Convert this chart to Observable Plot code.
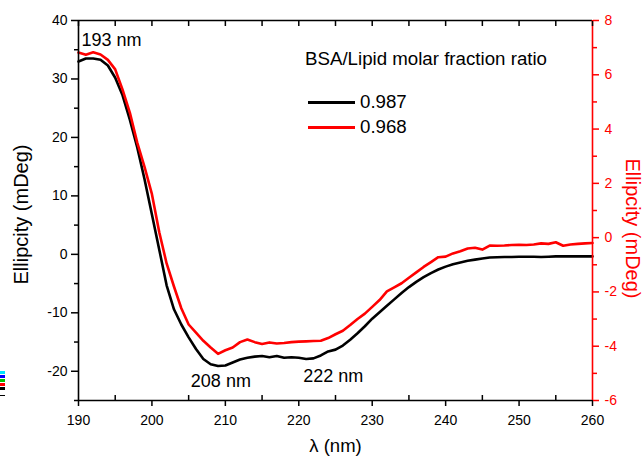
<!DOCTYPE html>
<html>
<head>
<meta charset="utf-8">
<script src="https://cdn.jsdelivr.net/npm/d3@7"></script>
<script src="https://cdn.jsdelivr.net/npm/@observablehq/plot@0.6"></script>
<style>
  body { margin: 0; background: #fff; font-family: "Liberation Sans", Arial, sans-serif; }
  #wrap { position: relative; width: 643px; height: 457px; overflow: hidden; }
  #legend { position: absolute; left: 305px; top: 47px; font-size: 18.7px; color: #000; }
  #legend .title { white-space: nowrap; line-height: 24px; }
  #legend .row { position: absolute; left: 3px; display: flex; align-items: center; white-space: nowrap; line-height: 22px; }
  #legend .sw { width: 47px; height: 3px; margin-right: 5px; }
  .frag { position: absolute; left: 0; width: 5px; height: 3px; }
</style>
</head>
<body>
<div id="wrap">
  <div id="chart"></div>
  <div id="legend"></div>
  <div class="frag" style="top:371px;background:#00e5ff"></div>
  <div class="frag" style="top:375px;background:#0000ff"></div>
  <div class="frag" style="top:379px;background:#00c000"></div>
  <div class="frag" style="top:383px;background:#ff0000"></div>
  <div class="frag" style="top:387px;background:#000"></div>
  <div class="frag" style="top:395px;height:1px;background:#000"></div>
</div>
<script>
// wavelength (nm)
const wavelength = [190,191,192,193,194,195,196,197,198,199,200,201,202,203,204,205,206,207,208,209,210,211,212,213,214,215,216,217,218,219,220,221,222,223,224,225,226,227,228,229,230,231,232,233,234,235,236,237,238,239,240,241,242,243,244,245,246,247,248,249,250,251,252,253,254,255,256,257,258,259,260];
// series 0.987 (left axis, mDeg)
const ellip0987 = [33.0,33.5,33.5,33.3,32.3,30.2,27.2,23.0,18.3,12.8,6.8,0.8,-5.3,-9.4,-12.0,-14.2,-16.2,-17.9,-18.8,-19.1,-19.0,-18.5,-18.0,-17.7,-17.5,-17.4,-17.6,-17.4,-17.7,-17.6,-17.7,-17.9,-17.8,-17.3,-16.6,-16.3,-15.6,-14.6,-13.5,-12.3,-11.0,-9.9,-8.8,-7.7,-6.6,-5.6,-4.7,-3.9,-3.2,-2.6,-2.1,-1.7,-1.4,-1.1,-0.9,-0.7,-0.55,-0.5,-0.45,-0.45,-0.4,-0.4,-0.4,-0.45,-0.4,-0.35,-0.35,-0.35,-0.35,-0.35,-0.35];
// series 0.968 (right axis, mDeg)
const ellip0968 = [6.82,6.74,6.83,6.75,6.55,6.2,5.45,4.6,3.5,2.6,1.6,0.2,-0.95,-1.8,-2.6,-3.2,-3.5,-3.8,-4.05,-4.28,-4.15,-4.05,-3.85,-3.75,-3.85,-3.92,-3.86,-3.9,-3.88,-3.85,-3.83,-3.82,-3.81,-3.8,-3.7,-3.56,-3.43,-3.22,-3.0,-2.8,-2.55,-2.3,-1.98,-1.83,-1.68,-1.48,-1.28,-1.08,-0.9,-0.72,-0.7,-0.58,-0.5,-0.4,-0.37,-0.44,-0.29,-0.3,-0.29,-0.27,-0.26,-0.27,-0.25,-0.21,-0.23,-0.17,-0.3,-0.25,-0.23,-0.21,-0.2];

const seriesNames = ["0.987", "0.968"];
const seriesColors = ["#000000", "#ff0000"];
const legendTitle = "BSA/Lipid molar fraction ratio";

const xTicksMajor = [190,200,210,220,230,240,250,260];
const xTicksMinor = [195,205,215,225,235,245,255];
const yLeftMajor = [-20,-10,0,10,20,30,40];
const yLeftMinor = [-25,-15,-5,5,15,25,35];
const yRightMajor = [-6,-4,-2,0,2,4,6,8];
const yRightMinor = [-5,-3,-1,1,3,5,7];

const leftDomain = [-25, 40];
const rightDomain = [-6, 8];

const annotations = [
  {label: "193 nm", x: 190.4, y: 36.6},
  {label: "208 nm", x: 205.3, y: -21.7},
  {label: "222 nm", x: 220.6, y: -20.9}
];

const xLabel = "λ (nm)";
const yLabel = "Ellipcity (mDeg)";

// map right-axis values onto the left-axis scale
const toLeft = v => leftDomain[0] + (v - rightDomain[0]) * (leftDomain[1] - leftDomain[0]) / (rightDomain[1] - rightDomain[0]);
const fromLeft = v => rightDomain[0] + (v - leftDomain[0]) * (rightDomain[1] - rightDomain[0]) / (leftDomain[1] - leftDomain[0]);

const rowsA = wavelength.map((w, i) => ({w, v: ellip0987[i]}));
const rowsB = wavelength.map((w, i) => ({w, v: toLeft(ellip0968[i])}));

const RED = seriesColors[1];
const fmt = d => String(d);

const chart = Plot.plot({
  width: 643,
  height: 457,
  marginLeft: 78,
  marginRight: 51,
  marginTop: 20,
  marginBottom: 57,
  style: {fontFamily: '"Liberation Sans", Arial, sans-serif', fontSize: "14px", background: "#fff", color: "#000", overflow: "visible"},
  x: {domain: [190, 260]},
  y: {domain: leftDomain},
  marks: [
    Plot.line(rowsA, {x: "w", y: "v", stroke: seriesColors[0], strokeWidth: 2.6}),
    Plot.line(rowsB, {x: "w", y: "v", stroke: seriesColors[1], strokeWidth: 2.6}),
    Plot.ruleY([leftDomain[0]], {stroke: "#000", strokeWidth: 1.6}),
    Plot.ruleY([leftDomain[1]], {stroke: "#000", strokeWidth: 1.6}),
    Plot.ruleX([190], {stroke: "#000", strokeWidth: 1.6}),
    Plot.ruleX([260], {stroke: RED, strokeWidth: 1.6}),
    Plot.axisX(xTicksMajor, {anchor: "bottom", tickSize: 6, tickPadding: 9, tickFormat: fmt, label: null, strokeWidth: 1.5}),
    Plot.axisX(xTicksMinor, {anchor: "bottom", tickSize: -5, fill: "none", label: null, strokeWidth: 1.5}),
    Plot.axisX(xTicksMajor.concat(xTicksMinor), {anchor: "top", tickSize: -5, fill: "none", label: null, strokeWidth: 1.5}),
    Plot.axisY(yLeftMajor, {anchor: "left", tickSize: 7, tickPadding: 4, tickFormat: fmt, label: null, strokeWidth: 1.5}),
    Plot.axisY(yLeftMinor, {anchor: "left", tickSize: 4, fill: "none", label: null, strokeWidth: 1.5}),
    Plot.axisY(yRightMajor.map(toLeft), {anchor: "right", tickSize: 6, tickPadding: 6, stroke: RED, fill: RED, tickFormat: d => String(Math.round(fromLeft(d))), label: null, strokeWidth: 1.5}),
    Plot.axisY(yRightMinor.map(toLeft), {anchor: "right", tickSize: 4, stroke: RED, fill: "none", label: null, strokeWidth: 1.5}),
    Plot.text(annotations, {x: "x", y: "y", text: "label", fontSize: 18, textAnchor: "start", fill: "#000"}),
    Plot.text([xLabel], {frameAnchor: "bottom", dy: 46, fontSize: 18.5, textAnchor: "middle", lineAnchor: "middle", fill: "#000"}),
    Plot.text([yLabel], {frameAnchor: "left", dx: -57, dy: 4, rotate: -90, fontSize: 20, textAnchor: "middle", lineAnchor: "middle", fill: "#000"}),
    Plot.text([yLabel], {frameAnchor: "right", dx: 40, dy: 18, rotate: 90, fontSize: 20, textAnchor: "middle", lineAnchor: "middle", fill: RED})
  ]
});
document.getElementById("chart").appendChild(chart);

// legend
const legend = document.getElementById("legend");
const t = document.createElement("div");
t.className = "title";
t.textContent = legendTitle;
legend.appendChild(t);
seriesNames.forEach((name, i) => {
  const row = document.createElement("div");
  row.className = "row";
  row.style.top = (44 + i * 25) + "px";
  const sw = document.createElement("div");
  sw.className = "sw";
  sw.style.background = seriesColors[i];
  const lab = document.createElement("span");
  lab.textContent = name;
  row.appendChild(sw);
  row.appendChild(lab);
  legend.appendChild(row);
});
</script>
</body>
</html>
